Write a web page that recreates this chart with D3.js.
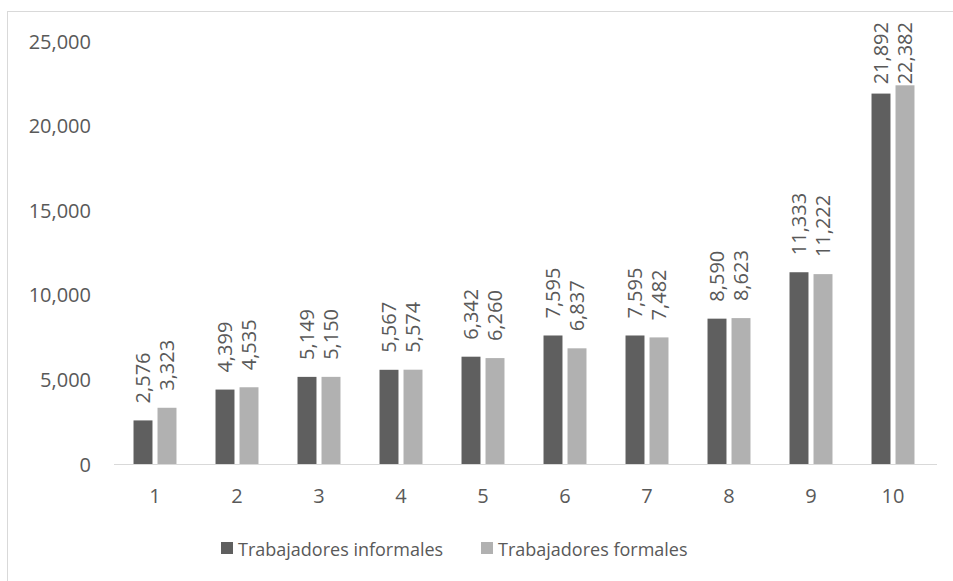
<!DOCTYPE html>
<html>
<head>
<meta charset="utf-8">
<script src="https://cdn.jsdelivr.net/npm/d3@7"></script>
<style>
  body { margin: 0; background: #fff; }
  svg { display: block; }
  text { font-family: "Open Sans", sans-serif; fill: #595959; }
</style>
</head>
<body>
<script>
// deciles and values
let deciles = ["1", "2", "3", "4", "5", "6", "7", "8", "9", "10"]
let informales = [2576, 4399, 5149, 5567, 6342, 7595, 7595, 8590, 11333, 21892]
let formales = [3323, 4535, 5150, 5574, 6260, 6837, 7482, 8623, 11222, 22382]
let seriesNames = ["Trabajadores informales", "Trabajadores formales"]
let seriesColors = ["#5f5f5f", "#b1b1b1"]
let yTicks = [0, 5000, 10000, 15000, 20000, 25000]

let W = 953, H = 581

let svg = d3.select("body")
    .append("svg")
    .attr("width", W)
    .attr("height", H)

// chart border
svg.append("rect")
    .attr("x", 7.5)
    .attr("y", 11.5)
    .attr("width", 1000)
    .attr("height", 1000)
    .attr("fill", "none")
    .attr("stroke", "#d9d9d9")

let x0 = d3.scaleBand()
    .domain(deciles)
    .range([114, 934])
    .paddingInner(0.476)
    .paddingOuter(0.238)

let x1 = d3.scaleBand()
    .domain(seriesNames)
    .range([0, x0.bandwidth()])
    .paddingInner(0.21)

let y = d3.scaleLinear()
    .domain([0, 25000])
    .range([464, 41])

let fmt = d3.format(",")

// y axis labels only
let yAxis = d3.axisLeft(y).tickValues(yTicks).tickFormat(fmt).tickSize(0).tickPadding(0)
let yg = svg.append("g").attr("transform", "translate(91,0)").call(yAxis)
yg.select(".domain").remove()
yg.selectAll("text").style("font-size", "20px").attr("fill", "#595959").attr("dy", "0.35em")
    .style("font-family", "'Open Sans', sans-serif")

// x axis
let xAxis = d3.axisBottom(x0).tickSize(0).tickPadding(0)
let xg = svg.append("g").attr("transform", "translate(0,464)").call(xAxis)
xg.select(".domain").attr("stroke", "#d9d9d9").attr("d", "M114,0.5H937")
xg.selectAll("text").style("font-size", "20px").attr("fill", "#595959").attr("y", 39).attr("dy", 0)
    .style("font-family", "'Open Sans', sans-serif")

let rows = deciles.map((d, i) => ({ decil: d, vals: [informales[i], formales[i]] }))

let groups = svg.selectAll("g.decil")
    .data(rows)
    .enter()
    .append("g")
    .attr("class", "decil")
    .attr("transform", d => "translate(" + x0(d.decil) + ",0)")

groups.selectAll("rect")
    .data(d => d.vals.map((v, j) => ({ name: seriesNames[j], v: v, j: j })))
    .enter()
    .append("rect")
    .attr("x", d => x1(d.name))
    .attr("y", d => y(d.v))
    .attr("width", x1.bandwidth())
    .attr("height", d => y(0) - y(d.v))
    .attr("fill", d => seriesColors[d.j])

// rotated value labels, kept inside the chart area
groups.selectAll("text.val")
    .data(d => d.vals.map((v, j) => ({ name: seriesNames[j], v: v, j: j })))
    .enter()
    .append("text")
    .attr("class", "val")
    .style("font-size", "20px")
    .attr("text-anchor", "start")
    .attr("dy", "0.35em")
    .text(d => fmt(d.v))
    .each(function (d) {
        let len = this.getComputedTextLength()
        let start = y(d.v) - 17
        if (start - len < 22) start = 22 + len
        let cx = x1(d.name) + x1.bandwidth() / 2
        d3.select(this).attr("transform", "translate(" + cx + "," + start + ") rotate(-90)")
    })

// legend
let legendX = [221, 481]
let legend = svg.selectAll("g.legend")
    .data(seriesNames)
    .enter()
    .append("g")
    .attr("class", "legend")
    .attr("transform", (d, i) => "translate(" + legendX[i] + ",542)")

legend.append("rect")
    .attr("width", 12)
    .attr("height", 12)
    .attr("fill", (d, i) => seriesColors[i])

legend.append("text")
    .attr("x", 17)
    .attr("y", 14)
    .style("font-size", "18px")
    .text(d => d)
</script>
</body>
</html>
